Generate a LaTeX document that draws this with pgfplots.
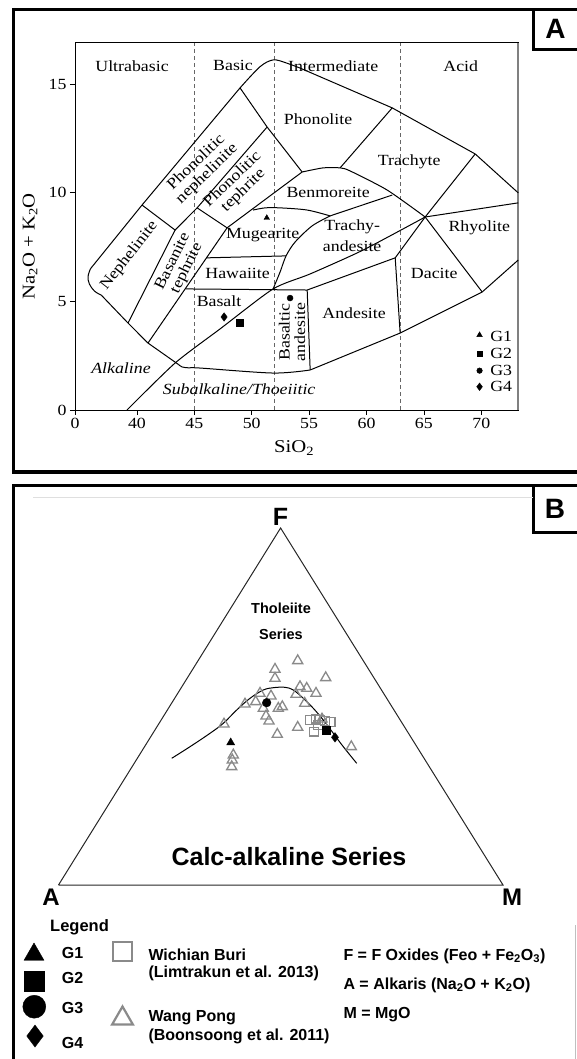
\documentclass[border=0pt]{standalone}
\usepackage{pgfplots}
\pgfplotsset{compat=1.18}
\usepackage{fontspec}
\setmainfont{Liberation Serif}
\newfontfamily\fa[FakeStretch=1.15]{Liberation Serif}
\newfontfamily\fb{Liberation Sans}
\newcommand\pa{\fa\fontsize{15.5}{15.5}\selectfont}
\newcommand\pal{\fa\fontsize{18}{18}\selectfont}
\newcommand\pb[1]{\fb\bfseries\fontsize{#1}{#1}\selectfont}
\definecolor{mgray}{HTML}{8A8A8A}
\begin{document}
\begin{tikzpicture}[x=1pt,y=1pt]
\useasboundingbox (0pt,0pt) rectangle (577pt,1059pt);
% ---------------- canvas (pixel coordinates) : frames + panel B ----------------
\begin{axis}[at={(0pt,0pt)},anchor=south west,width=577pt,height=1059pt,scale only axis,
  xmin=0,xmax=577,ymin=0,ymax=1059,y dir=reverse,axis lines=none,clip=false]
% frames panel A
\draw[line width=3.5pt] (axis cs:12,9.5) -- (axis cs:577,9.5);
\draw[line width=3pt] (axis cs:13.5,8) -- (axis cs:13.5,474);
\draw[line width=4pt] (axis cs:12,472) -- (axis cs:577,472);
\draw[line width=3pt] (axis cs:533,9.5) -- (axis cs:533,50) -- (axis cs:577,50);
\node[font=\pb{28}] at (axis cs:555.5,29) {A};
% frames panel B
\draw[line width=3pt] (axis cs:13.5,1059) -- (axis cs:13.5,485) -- (axis cs:577,485);
\draw[line width=3pt] (axis cs:533,485) -- (axis cs:533,532) -- (axis cs:577,532);
\draw[gray!25,line width=1pt] (axis cs:33,497.6) -- (axis cs:533,497.6);
\draw[gray!50,line width=1pt] (axis cs:575,925) -- (axis cs:575,1059);
\node[font=\pb{28}] at (axis cs:555,508.6) {B};
% triangle
\addplot[black!85,line width=1pt,mark=none] coordinates {(58.5,885) (280.6,528) (503,885) (58.5,885)};
% boundary curve
\addplot[black,line width=1pt,mark=none,smooth,tension=0.6] coordinates {
(171.7,758.3) (190,746.7) (210,733.3) (223.3,723.3) (236.7,710) (250,698.3) (263.3,690)
(273.3,687.7) (285,687.3) (293.3,690) (303.3,698.3) (313.3,708.3) (323.3,720) (333.3,733.3)
(343.3,746.7) (356.7,763.3)};
% Wang Pong (gray open triangles)
\addplot[only marks,mark=triangle,mark size=5.8pt,mgray,mark options={line width=1.3pt}] coordinates {
(297.7,660.7) (275,669.3) (275,678.3) (325.7,677.7) (300,686.7) (306.7,688.3) (316,693.3)
(296,694.3) (260,693.3) (271,696) (255.7,701.7) (245,704) (263.3,708.3) (278.3,708.3)
(282.3,706.7) (304.7,703.3) (266,716) (269,721) (224,724) (297.7,727.3) (277.3,734.3)
(351.3,746.7) (233.3,755) (232.3,760) (231.7,766.7) (322,719)};
% Wichian Buri (gray open squares)
\addplot[only marks,mark=square,mark size=4.3pt,mgray,mark options={line width=1.3pt}] coordinates {
(310,720) (315.5,718.7) (320,720) (325,721) (330.7,722) (314,731.7) (318,725)};
% samples
\addplot[only marks,mark=triangle*,mark size=4.6pt,black] coordinates {(230.7,742.5)};
\addplot[only marks,mark=square*,mark size=3.7pt,black] coordinates {(326,730)};
\addplot[only marks,mark=*,mark size=4.3pt,black] coordinates {(266.7,702.7)};
\addplot[only marks,mark=diamond*,mark size=4.7pt,black] coordinates {(335,737.3)};
% labels
\node[font=\pb{25},anchor=base] at (axis cs:280.6,525) {F};
\node[font=\pb{24},anchor=base] at (axis cs:51,905) {A};
\node[font=\pb{24},anchor=base] at (axis cs:512,905) {M};
\node[font=\pb{14.5}] at (axis cs:281,608) {Tholeiite};
\node[font=\pb{14.5}] at (axis cs:281,634) {Series};
\node[font=\pb{25},anchor=base] at (axis cs:289,865) {Calc-alkaline Series};
% legend
\node[font=\pb{16.5},anchor=base west,inner sep=0pt] at (axis cs:50,931.7) {Legend};
\addplot[only marks,mark=triangle*,mark size=11.5pt,black] coordinates {(34,954.5)};
\addplot[only marks,mark=square*,mark size=10pt,black] coordinates {(34.5,981)};
\addplot[only marks,mark=*,mark size=11.5pt,black] coordinates {(34.3,1006.7)};
\addplot[only marks,mark=diamond*,mark size=11pt,black] coordinates {(35,1036)};
\node[font=\pb{16},anchor=base west,inner sep=0pt] at (axis cs:61.7,958.3) {G1};
\node[font=\pb{16},anchor=base west,inner sep=0pt] at (axis cs:61.7,983.3) {G2};
\node[font=\pb{16},anchor=base west,inner sep=0pt] at (axis cs:61.7,1013) {G3};
\node[font=\pb{16},anchor=base west,inner sep=0pt] at (axis cs:61.7,1048) {G4};
\addplot[only marks,mark=square,mark size=9.5pt,mgray,mark options={line width=2.2pt}] coordinates {(122.5,951.7)};
\addplot[only marks,mark=triangle,mark size=12pt,mgray,mark options={line width=2.2pt}] coordinates {(122.5,1018.5)};
\node[font=\pb{16},anchor=base west,inner sep=0pt] at (axis cs:148.3,960) {Wichian Buri};
\node[font=\pb{16},anchor=base west,inner sep=0pt] at (axis cs:148.3,977) {(Limtrakun et al. 2013)};
\node[font=\pb{16},anchor=base west,inner sep=0pt] at (axis cs:148.3,1021.5) {Wang Pong};
\node[font=\pb{16},anchor=base west,inner sep=0pt] at (axis cs:148.3,1040) {(Boonsoong et al. 2011)};
\node[font=\pb{16},anchor=base west,inner sep=0pt] at (axis cs:343.3,960) {F = F Oxides (Feo + Fe\textsubscript{2}O\textsubscript{3})};
\node[font=\pb{16},anchor=base west,inner sep=0pt] at (axis cs:343.3,989) {A = Alkaris (Na\textsubscript{2}O + K\textsubscript{2}O)};
\node[font=\pb{16},anchor=base west,inner sep=0pt] at (axis cs:343.3,1018.5) {M = MgO};
\end{axis}
% ---------------- panel A : TAS diagram ----------------
\begin{axis}[at={(75pt,649pt)},anchor=south west,width=443pt,height=367.3pt,scale only axis,
  xmin=34.6,xmax=73.2,ymin=0,ymax=16.9,
  xtick={34.6,40,45,50,55,60,65,70},xticklabels={0,40,45,50,55,60,65,70},
  ytick={0,5,10,15},yticklabels={0,5,10,15},
  tick align=outside,xtick pos=left,ytick pos=left,major tick length=5pt,
  tick style={black,line width=0.6pt},axis line style={line width=0.8pt},
  ticklabel style={font=\pa},clip=false]
\pgfplotsset{bd/.style={black,line width=1pt,mark=none}}
\draw[gray,line width=1.4pt] (rel axis cs:1,0) -- (rel axis cs:1,1);
% dashed silica divisions
\addplot[gray!80!black,dash pattern=on 4pt off 3pt,line width=1pt] coordinates {(45,0) (45,16.9)};
\addplot[gray!80!black,dash pattern=on 4pt off 3pt,line width=1pt] coordinates {(52,0) (52,16.9)};
\addplot[gray!80!black,dash pattern=on 4pt off 3pt,line width=1pt] coordinates {(63,0) (63,16.9)};
% outer top curve
\addplot[bd,smooth,tension=0.5] coordinates {(48.98,14.82) (50.73,15.80) (51.89,16.11) (53.05,15.96) (54.22,15.73)};
\addplot[bd] coordinates {(54.22,15.73) (62.24,13.90) (69.47,11.78) (73.22,9.99)};
% outer left boundary
\addplot[bd] coordinates {(48.98,14.82) (40.44,9.43) (35.95,6.50)};
\addplot[bd,smooth,tension=0.6] coordinates {(35.95,6.50) (35.74,6.15) (35.85,5.80) (36.3,5.47) (36.9,5.28)};
\addplot[bd] coordinates {(36.9,5.28) (39.22,4.00) (40.96,3.08) (43.6,2.1)};
\addplot[bd,smooth] coordinates {(43.6,2.1) (43.93,1.98) (44.5,1.94) (45.50,1.93) (51.86,1.70) (55.09,1.84)};
% lower right boundary
\addplot[bd] coordinates {(55.09,1.84) (62.93,3.54) (70.08,5.43) (73.22,6.90)};
% alkaline / subalkaline divide
\addplot[bd,smooth,tension=0.4] coordinates {(39.13,0) (43.32,2.16) (47.24,3.73) (51.86,5.57) (55.09,6.26) (59.71,7.36) (65.11,8.88)};
\addplot[bd] coordinates {(65.11,8.88) (73.22,9.53)};
% field boundaries
\addplot[bd] coordinates {(40.44,9.43) (43.32,8.28) (45.24,9.30) (47.85,8.38)};
\addplot[bd] coordinates {(43.32,8.28) (39.22,4.00)};
\addplot[bd] coordinates {(47.85,8.38) (40.96,3.08)};
\addplot[bd] coordinates {(45.24,9.30) (51.34,13.02)};
\addplot[bd] coordinates {(48.98,14.82) (51.34,13.02) (54.39,10.95)};
\addplot[bd] coordinates {(47.85,8.38) (54.39,10.95)};
\addplot[bd,smooth,tension=0.4] coordinates {(54.39,10.95) (56.22,11.14) (57.70,11.14) (58.57,11.00) (61.80,10.12) (65.11,8.88)};
\addplot[bd] coordinates {(57.70,11.14) (62.24,13.90)};
\addplot[bd] coordinates {(69.47,11.78) (65.11,8.88)};
\addplot[bd,smooth,tension=0.5] coordinates {(50.12,9.20) (51.16,9.30) (52.47,9.30) (54.83,9.20) (56.83,8.93)};
\addplot[bd] coordinates {(56.83,8.93) (62.24,9.89)};
\addplot[bd,smooth,tension=0.5] coordinates {(56.83,8.93) (55.26,8.47) (53.78,7.73) (52.99,7.09) (52.47,6.35) (51.86,5.57)};
\addplot[bd] coordinates {(46.02,7.00) (52.99,7.09)};
\addplot[bd] coordinates {(44.25,5.57) (54.83,5.52)};
\addplot[bd] coordinates {(54.83,5.52) (55.09,1.84)};
\addplot[bd] coordinates {(54.83,5.52) (62.50,7.00)};
\addplot[bd] coordinates {(62.50,7.00) (62.93,3.54)};
\addplot[bd] coordinates {(62.50,7.00) (65.11,8.88)};
\addplot[bd] coordinates {(65.11,8.88) (70.08,5.43)};
% samples
\addplot[only marks,mark=triangle*,mark size=3.2pt,black] coordinates {(51.31,8.84)};
\addplot[only marks,mark=square*,mark size=3.5pt,black] coordinates {(48.98,4.00)};
\addplot[only marks,mark=*,mark size=3pt,black] coordinates {(53.34,5.15)};
\addplot[only marks,mark=diamond*,mark size=4.2pt,black] coordinates {(47.59,4.28)};
% legend
\addplot[only marks,mark=triangle*,mark size=3.2pt,black] coordinates {(69.85,3.45)};
\addplot[only marks,mark=square*,mark size=2.6pt,black] coordinates {(69.85,2.58)};
\addplot[only marks,mark=*,mark size=2.8pt,black] coordinates {(69.85,1.81)};
\addplot[only marks,mark=diamond*,mark size=3.8pt,black] coordinates {(69.85,1.07)};
\node[font=\pa] at (axis cs:71.74,3.37) {G1};
\node[font=\pa] at (axis cs:71.74,2.58) {G2};
\node[font=\pa] at (axis cs:71.74,1.81) {G3};
\node[font=\pa] at (axis cs:71.74,1.07) {G4};
% field labels
\node[font=\pa] at (axis cs:39.57,15.84) {Ultrabasic};
\node[font=\pa] at (axis cs:48.37,15.84) {Basic};
\node[font=\pa] at (axis cs:57.09,15.84) {Intermediate};
\node[font=\pa] at (axis cs:68.21,15.84) {Acid};
\node[font=\pa] at (axis cs:55.78,13.39) {Phonolite};
\node[font=\pa] at (axis cs:63.72,11.43) {Trachyte};
\node[font=\pa] at (axis cs:56.66,10.03) {Benmoreite};
\node[font=\pa] at (axis cs:69.82,8.40) {Rhyolite};
\node[font=\pa] at (axis cs:50.95,8.05) {Mugearite};
\node[font=\pa] at (axis cs:58.75,8.42) {Trachy-};
\node[font=\pa] at (axis cs:58.75,7.52) {andesite};
\node[font=\pa] at (axis cs:48.77,6.30) {Hawaiite};
\node[font=\pa] at (axis cs:65.90,6.26) {Dacite};
\node[font=\pa] at (axis cs:47.15,5.02) {Basalt};
\node[font=\pa] at (axis cs:58.92,4.46) {Andesite};
\node[font=\pa,rotate=44,align=center] at (axis cs:45.64,11.12) {Phonolitic\\nephelinite};
\node[font=\pa,rotate=44,align=center] at (axis cs:48.81,10.35) {Phonolitic\\tephrite};
\node[font=\pa,rotate=52] at (axis cs:39.33,7.09) {Nephelinite};
\node[font=\pa,rotate=64,align=center] at (axis cs:43.75,6.67) {Basanite\\tephrite};
\node[font=\pa,rotate=90,align=center] at (axis cs:53.52,3.59) {Basaltic\\andesite};
\node[font=\pa\itshape] at (axis cs:38.61,1.93) {Alkaline};
\node[font=\pa\itshape] at (axis cs:48.9,0.97) {Subalkaline/Thoeiitic};
% axis labels
\node[font=\pal] at (axis cs:53.69,-1.75) {SiO\textsubscript{2}};
\node[font=\pal,rotate=90] at (axis cs:30.68,7.52) {Na\textsubscript{2}O + K\textsubscript{2}O};
\end{axis}
\end{tikzpicture}
\end{document}
